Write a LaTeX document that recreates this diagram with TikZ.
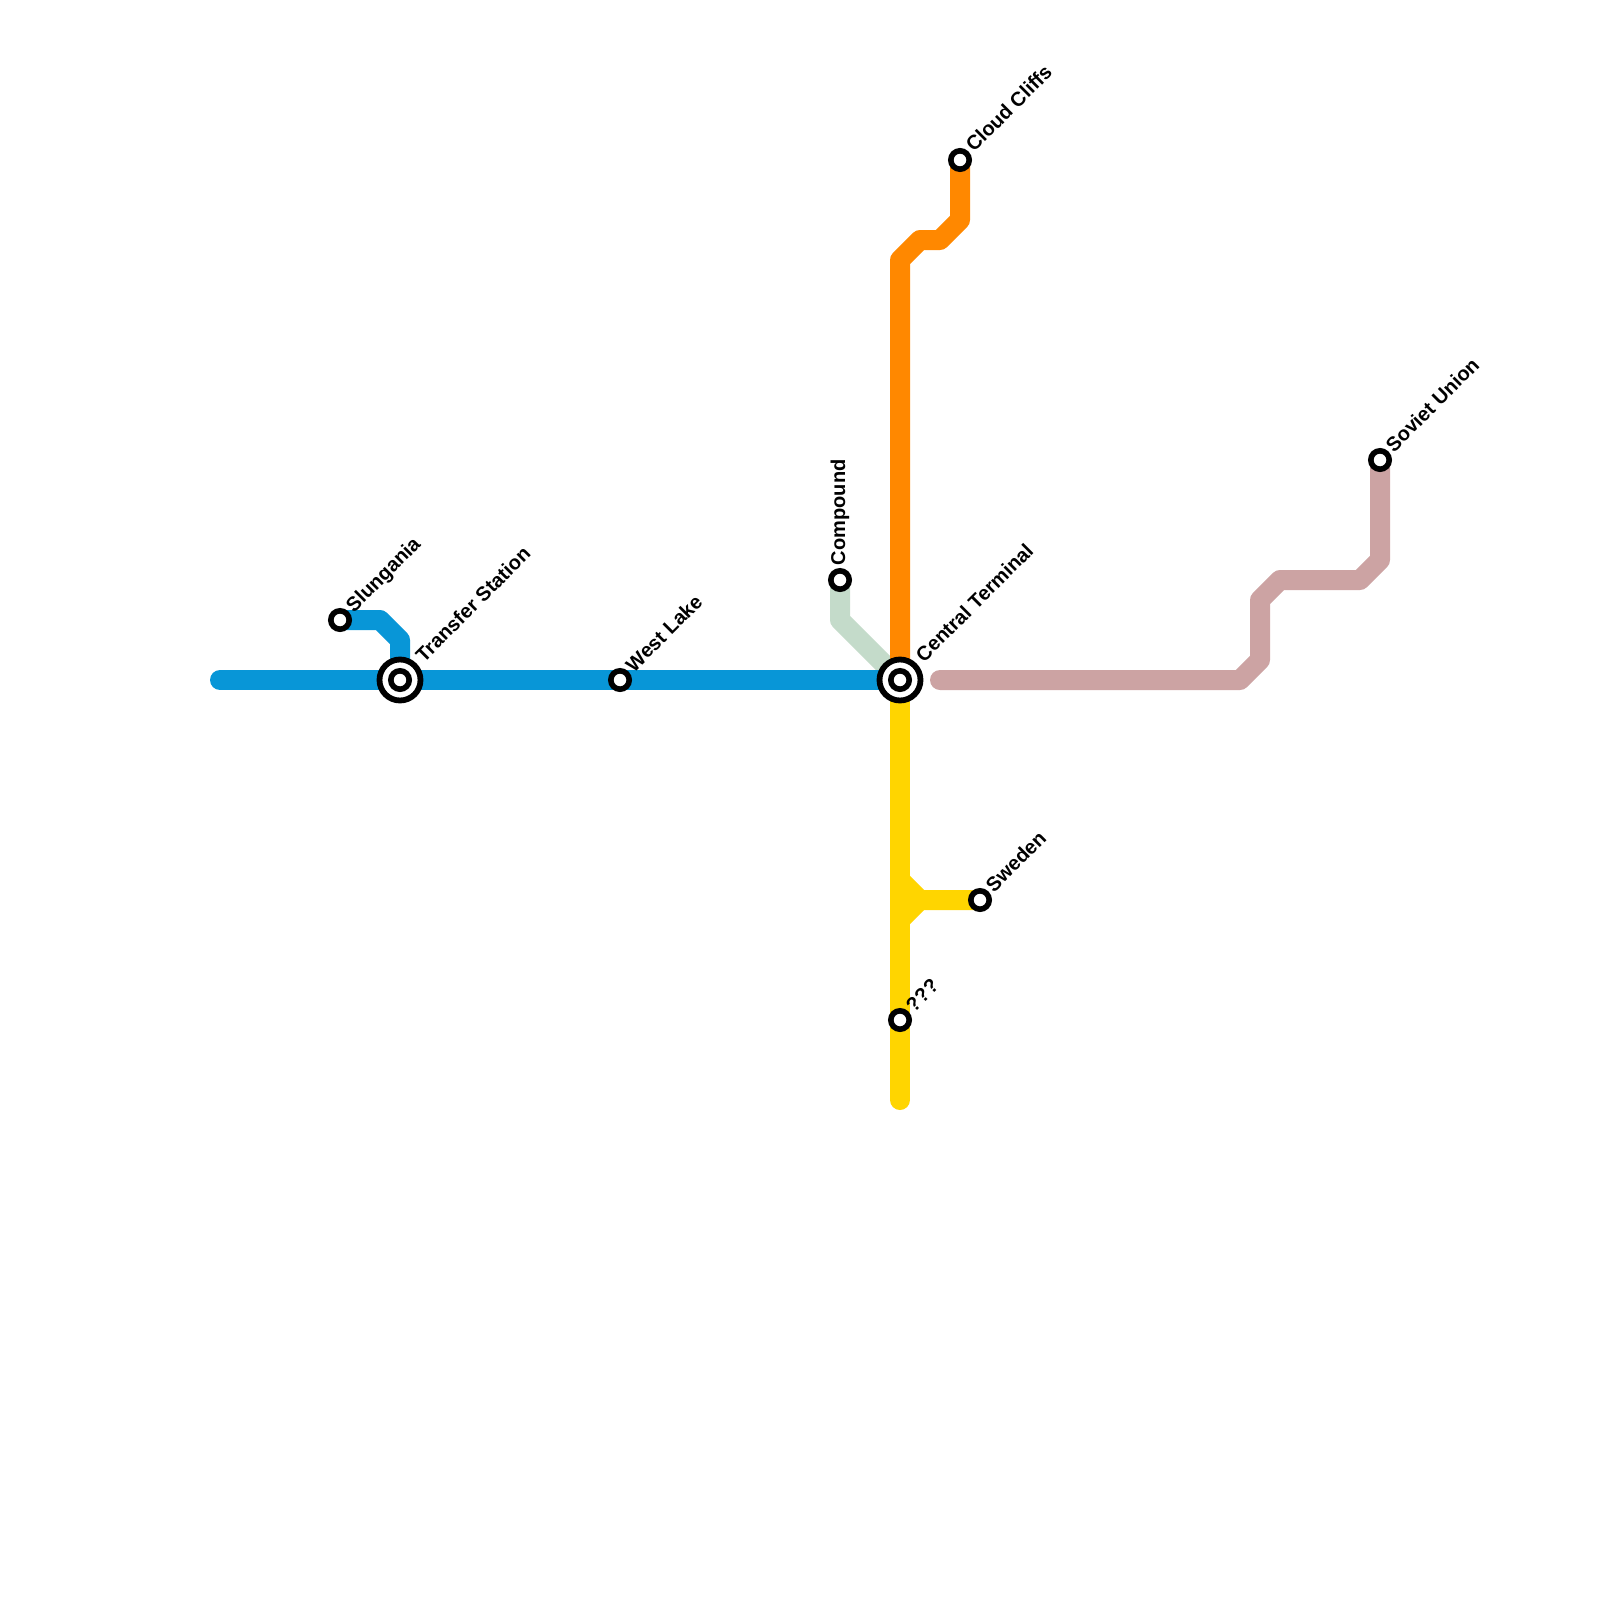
\documentclass[tikz,border=0pt]{standalone}
\usepackage{fontspec}
\setmainfont{Liberation Sans}
\definecolor{lblue}{HTML}{0896D7}
\definecolor{lorange}{HTML}{FF8800}
\definecolor{lyellow}{HTML}{FFD500}
\definecolor{lpink}{HTML}{CCA3A3}
\definecolor{lgreen}{HTML}{C4DBCA}
\tikzset{
  metro/.style={line width=20pt,line cap=round,line join=round},
  stationdot/.style={circle,draw=black,fill=white,line width=5.6pt,minimum size=18.4pt,inner sep=0pt,outer sep=0pt},
  hubring/.style={circle,draw=black,fill=white,line width=5.8pt,minimum size=41pt,inner sep=0pt,outer sep=0pt},
  labbase/.style={font=\fontsize{20}{20}\selectfont\bfseries,inner sep=0pt,outer sep=0pt,anchor=base west},
  lab/.style={labbase,rotate=45},
}
\begin{document}
\begin{tikzpicture}[x=1pt,y=-1pt]
\useasboundingbox (0,0) rectangle (1600,1600);
% route points
\coordinate (blueW) at (220,680);
\coordinate (hub) at (900,680);
\coordinate (trans) at (400,680);
\coordinate (slung) at (340,620);
\coordinate (b1) at (380,620);
\coordinate (b2) at (400,640);
\coordinate (lake) at (620,680);
\coordinate (comp) at (840,580);
\coordinate (g1) at (840,620);
\coordinate (o1) at (900,260);
\coordinate (o2) at (920,240);
\coordinate (o3) at (940,240);
\coordinate (o4) at (960,220);
\coordinate (cliffs) at (960,160);
\coordinate (p0) at (940,680);
\coordinate (p1) at (1240,680);
\coordinate (p2) at (1260,660);
\coordinate (p3) at (1260,600);
\coordinate (p4) at (1280,580);
\coordinate (p5) at (1360,580);
\coordinate (p6) at (1380,560);
\coordinate (soviet) at (1380,460);
\coordinate (yS) at (900,1100);
\coordinate (y1) at (900,880);
\coordinate (y2) at (920,900);
\coordinate (y3) at (900,920);
\coordinate (swe) at (980,900);
\coordinate (qqq) at (900,1020);
% lines
\draw[metro,lgreen] (comp) -- (g1) -- (hub);
\draw[metro,lpink] (p0) -- (p1) -- (p2) -- (p3) -- (p4) -- (p5) -- (p6) -- (soviet);
\draw[metro,lorange] (hub) -- (o1) -- (o2) -- (o3) -- (o4) -- (cliffs);
\draw[metro,lyellow] (hub) -- (yS);
\draw[metro,lyellow] (y1) -- (y2) -- (swe);
\draw[metro,lyellow] (y3) -- (y2);
\draw[metro,lblue] (blueW) -- (hub);
\draw[metro,lblue] (slung) -- (b1) -- (b2) -- (trans);
% stations
\node[stationdot] (nSlung) at (slung) {};
\node[stationdot] (nLake) at (lake) {};
\node[stationdot] (nComp) at (comp) {};
\node[stationdot] (nCliffs) at (cliffs) {};
\node[stationdot] (nSoviet) at (soviet) {};
\node[stationdot] (nSwe) at (swe) {};
\node[stationdot] (nQ) at (qqq) {};
\node[hubring] (nTransO) at (trans) {};
\node[stationdot] (nTrans) at (trans) {};
\node[hubring] (nHubO) at (hub) {};
\node[stationdot] (nHub) at (hub) {};
% labels
\node[lab] (tSlung) at (354,613) {Slungania};
\node[lab] (tTrans) at (424,663) {Transfer Station};
\node[lab] (tLake) at (634,673) {West Lake};
\node[labbase,rotate=90] (tCompound) at (845,565) {Compound};
\node[lab] (tHub) at (924,663) {Central Terminal};
\node[lab] (tCliffs) at (974,153) {Cloud Cliffs};
\node[lab] (tSoviet) at (1394,453) {Soviet Union};
\node[lab] (tSwe) at (994,893) {Sweden};
\node[lab] (tQ) at (914,1013) {???};
\end{tikzpicture}
\end{document}
